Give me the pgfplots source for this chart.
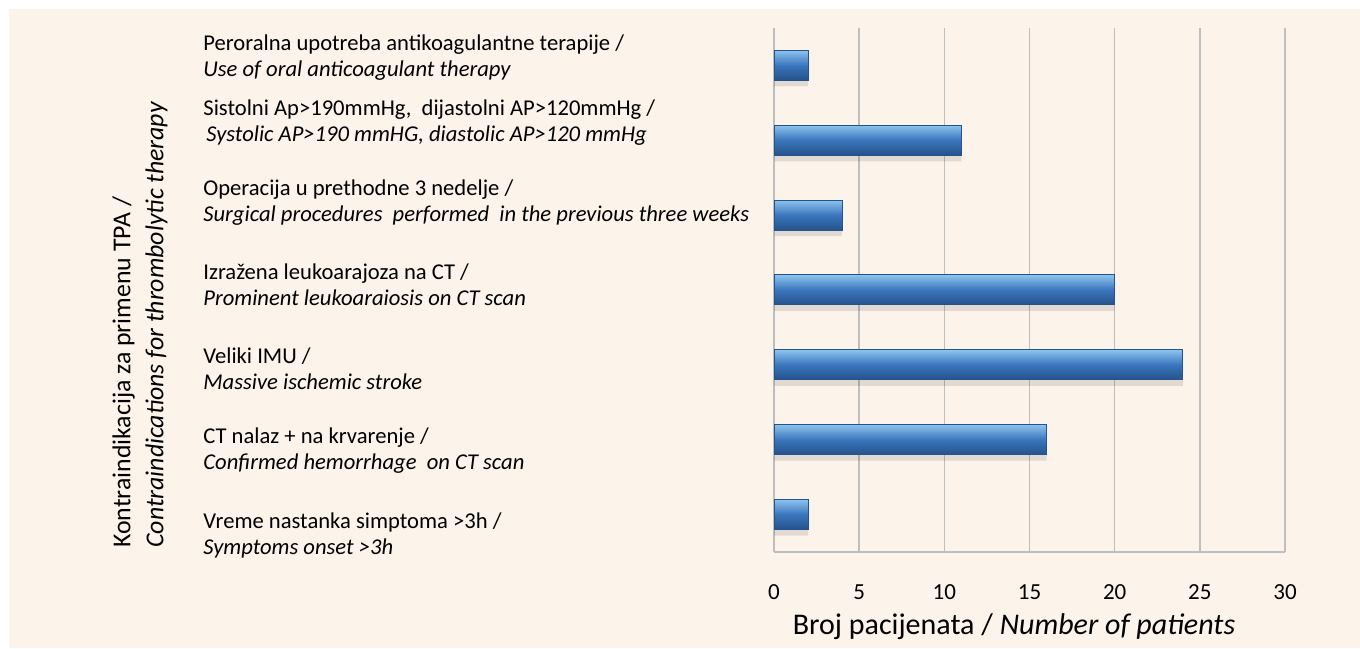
\documentclass[border=0pt]{standalone}
\usepackage{pgfplots}
\pgfplotsset{compat=1.18}
\usepackage{fontspec}
\setmainfont{Carlito}
\definecolor{peach}{HTML}{FCF3EA}
\definecolor{gridgray}{HTML}{BEBEBE}
\definecolor{barLight}{HTML}{8CC3EE}
\definecolor{barMid}{HTML}{3A75BC}
\definecolor{barDark}{HTML}{24528A}
\begin{document}
\begin{tikzpicture}
\fill[white] (0,0) rectangle (680pt,324pt);
\fill[peach] (4.5pt,0) rectangle (680pt,319.5pt);
\useasboundingbox (0,0) rectangle (680pt,324pt);
\begin{axis}[
  at={(387pt,48pt)}, anchor=south west,
  scale only axis, width=255.5pt, height=262pt,
  xmin=0, xmax=30, ymin=-0.5, ymax=6.5,
  axis x line*=bottom, axis y line*=left,
  axis line style={gridgray, line width=0.8pt, -},
  xtick={0,5,...,30}, ytick=\empty,
  major tick length=0pt,
  xmajorgrids, grid style={gridgray, line width=0.8pt},
  /pgf/number format/assume math mode=true,
  xticklabel style={font=\fontsize{11.5}{13}\selectfont, yshift=-13pt},
  xlabel={Broj pacijenata / \textit{Number of patients}},
  xlabel style={at={(rel axis cs:0.5,0)}, anchor=center, yshift=-37.5pt, xshift=-7.75pt, font=\fontsize{15}{17}\selectfont},
  clip=false,
  shadowbar/.style={xbar, bar width=15pt, bar shift=-3pt, fill=black, draw=none, fill opacity=0.10, forget plot},
  bluebar/.style={xbar, bar width=15pt, bar shift=0pt, top color=barLight, bottom color=barDark, middle color=barMid, draw=barDark, line width=0.5pt},
]
\addplot[shadowbar] coordinates {(2,6) (11,5) (4,4) (20,3) (24,2) (16,1) (2,0)};
\addplot[bluebar] coordinates {(2,6)};
\addplot[bluebar] coordinates {(11,5)};
\addplot[bluebar] coordinates {(4,4)};
\addplot[bluebar] coordinates {(20,3)};
\addplot[bluebar] coordinates {(24,2)};
\addplot[bluebar] coordinates {(16,1)};
\addplot[bluebar] coordinates {(2,0)};
\end{axis}
\begin{scope}[every node/.style={anchor=west, align=left, inner sep=0pt, font=\fontsize{11.3}{13}\selectfont}]
\node at (101.5pt,295pt) {Peroralna upotreba antikoagulantne terapije /\\\textit{Use of oral anticoagulant therapy}};
\node at (101.5pt,262.5pt) {Sistolni Ap>190mmHg,\ \ dijastolni AP>120mmHg /\\\hspace{1.5pt}\textit{Systolic AP>190 mmHG, diastolic AP>120 mmHg}};
\node at (101.5pt,222.5pt) {Operacija u prethodne 3 nedelje /\\\textit{Surgical procedures\ \ performed\ \ in the previous three weeks}};
\node at (101.5pt,181.5pt) {Izražena leukoarajoza na CT /\\\textit{Prominent leukoaraiosis on CT scan}};
\node at (101.5pt,139.5pt) {Veliki IMU /\\\textit{Massive ischemic stroke}};
\node at (101.5pt,98.5pt) {CT nalaz + na krvarenje /\\\textit{Confirmed hemorrhage\ \ on CT scan}};
\node at (101.5pt,56.5pt) {Vreme nastanka simptoma >3h /\\\textit{Symptoms onset >3h}};
\end{scope}
\node[rotate=90, anchor=south west, align=left, inner sep=0pt, font=\fontsize{12.9}{16.5}\selectfont] at (84pt,50pt) {Kontraindikacija za primenu TPA /\\\textit{Contraindications for thrombolytic therapy}};
\end{tikzpicture}
\end{document}
